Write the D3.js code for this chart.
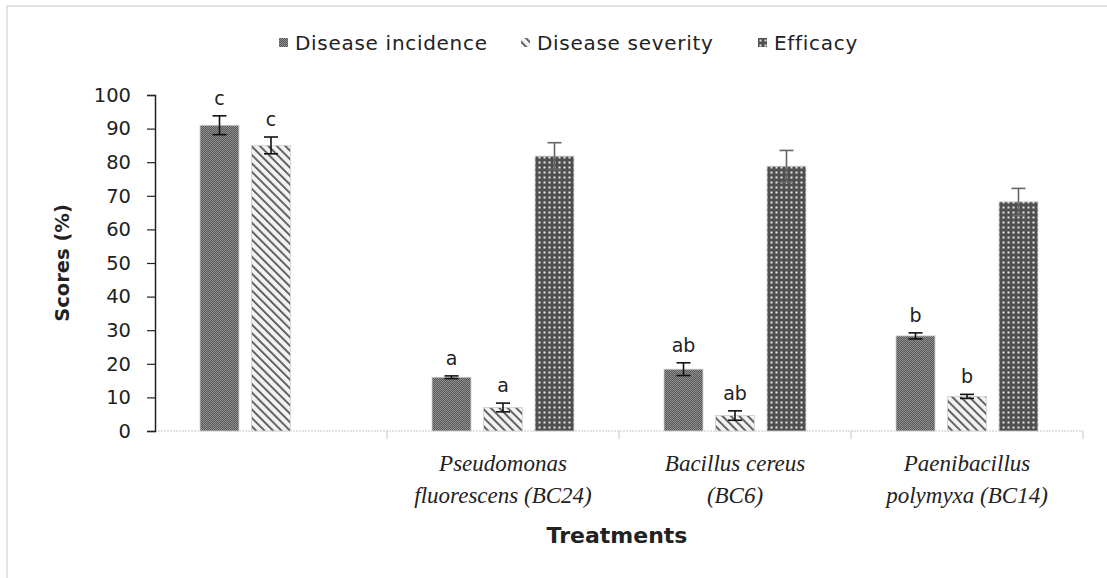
<!DOCTYPE html>
<html>
<head>
<meta charset="utf-8">
<script src="https://cdn.jsdelivr.net/npm/d3@7"></script>
<style>
body { margin: 0; background: #fff; }
text { font-family: "DejaVu Sans", Verdana, sans-serif; fill: #222; }
</style>
</head>
<body>
<script>
var w = 1107, h = 578;

// data
var categories = ["Control", "Pseudomonas fluorescens (BC24)", "Bacillus cereus (BC6)", "Paenibacillus polymyxa (BC14)"];
var catLines = [[], ["Pseudomonas", "fluorescens (BC24)"], ["Bacillus cereus", "(BC6)"], ["Paenibacillus", "polymyxa (BC14)"]];
var series = ["Disease incidence", "Disease severity", "Efficacy"];
var incidence = [91, 16, 18.4, 28.3];
var incidenceErr = [2.8, 0.4, 1.9, 0.9];
var severity = [85, 7, 4.6, 10.3];
var severityErr = [2.5, 1.3, 1.4, 0.6];
var efficacy = [null, 81.8, 78.8, 68.2];
var efficacyErr = [0, 4, 4.7, 4];
var letters = [["c", "c", ""], ["a", "a", ""], ["ab", "ab", ""], ["b", "b", ""]];
var yTicks = [0, 10, 20, 30, 40, 50, 60, 70, 80, 90, 100];

var values = [incidence, severity, efficacy];
var errs = [incidenceErr, severityErr, efficacyErr];

var svg = d3.select("body").append("svg")
    .attr("width", w)
    .attr("height", h);

// patterns
var defs = svg.append("defs");
var p1 = defs.append("pattern").attr("id", "pInc").attr("patternUnits", "userSpaceOnUse")
    .attr("width", 2).attr("height", 2);
p1.append("rect").attr("width", 2).attr("height", 2).attr("fill", "#919191");
p1.append("rect").attr("width", 1).attr("height", 1).attr("fill", "#575757");
p1.append("rect").attr("x", 1).attr("y", 1).attr("width", 1).attr("height", 1).attr("fill", "#575757");

var p2 = defs.append("pattern").attr("id", "pSev").attr("patternUnits", "userSpaceOnUse")
    .attr("width", 6).attr("height", 6).attr("patternTransform", "rotate(-45)");
p2.append("rect").attr("width", 6).attr("height", 6).attr("fill", "#f2f2f2");
p2.append("rect").attr("width", 1.8).attr("height", 6).attr("fill", "#555");

var p3 = defs.append("pattern").attr("id", "pEff").attr("patternUnits", "userSpaceOnUse")
    .attr("width", 5).attr("height", 5);
p3.append("rect").attr("width", 5).attr("height", 5).attr("fill", "#4f4f4f");
p3.append("rect").attr("x", 1.5).attr("y", 1.5).attr("width", 2).attr("height", 2).attr("fill", "#e8e8e8");

var fills = ["url(#pInc)", "url(#pSev)", "url(#pEff)"];

// chart border
svg.append("path")
    .attr("d", "M7," + h + "V6H" + w)
    .attr("fill", "none")
    .attr("stroke", "#e2e2e2")
    .attr("stroke-width", 2);

var x0 = d3.scaleBand().domain(categories).range([155, 1083]);
var x1 = d3.scaleBand().domain(series).range([32.5, 199.5]).padding(0.243);
var y = d3.scaleLinear().domain([0, 100]).range([431, 95]);

// x axis line (dotted grey) and ticks at category edges
svg.append("line")
    .attr("x1", 155).attr("x2", 1083)
    .attr("y1", y(0)).attr("y2", y(0))
    .attr("stroke", "#c8c8c8")
    .attr("stroke-width", 1.2)
    .attr("stroke-dasharray", "2,1");
svg.selectAll(".xtick")
    .data(categories.slice(1).concat(["end"]))
    .enter().append("line")
    .attr("x1", function (d, i) { return i < 3 ? x0(categories[i + 1]) : 1083; })
    .attr("x2", function (d, i) { return i < 3 ? x0(categories[i + 1]) : 1083; })
    .attr("y1", y(0)).attr("y2", y(0) + 8)
    .attr("stroke", "#c8c8c8");

// bars
var groups = svg.selectAll(".grp")
    .data(categories)
    .enter().append("g")
    .attr("transform", function (d) { return "translate(" + x0(d) + ",0)"; });

series.forEach(function (s, si) {
    groups.each(function (c, ci) {
        var v = values[si][ci];
        if (v === null) return;
        var g = d3.select(this);
        var cx = x1(s) + x1.bandwidth() / 2;
        g.append("rect")
            .attr("x", x1(s))
            .attr("y", y(v))
            .attr("width", x1.bandwidth())
            .attr("height", y(0) - y(v))
            .attr("fill", fills[si])
            .attr("stroke", "#cfcfcf")
            .attr("stroke-width", 0.8);
        var e = errs[si][ci];
        var col = si == 2 ? "#666" : "#111";
        g.append("line")
            .attr("x1", cx).attr("x2", cx)
            .attr("y1", y(v + e)).attr("y2", y(v - e))
            .attr("stroke", col).attr("stroke-width", 1.6);
        [v + e, v - e].forEach(function (t) {
            g.append("line")
                .attr("x1", cx - 7).attr("x2", cx + 7)
                .attr("y1", y(t)).attr("y2", y(t))
                .attr("stroke", col).attr("stroke-width", 1.6);
        });
        if (letters[ci][si]) {
            g.append("text")
                .attr("x", cx)
                .attr("y", y(v + e) - 11)
                .attr("text-anchor", "middle")
                .attr("font-size", 19)
                .text(letters[ci][si]);
        }
    });
});

// y axis
var yAxis = d3.axisLeft(y).tickValues(yTicks).tickSize(8).tickPadding(16);
var ya = svg.append("g")
    .attr("transform", "translate(155,0)")
    .call(yAxis);
ya.select(".domain").attr("stroke", "#222").attr("stroke-width", 1.5);
ya.selectAll(".tick line").attr("stroke", "#222").attr("stroke-width", 1.2);
ya.selectAll(".tick text")
    .attr("font-family", "DejaVu Sans, sans-serif")
    .attr("font-size", 19.5)
    .attr("fill", "#2a2a2a");

// category labels
groups.each(function (c, ci) {
    var g = d3.select(this);
    catLines[ci].forEach(function (t, li) {
        g.append("text")
            .attr("x", x0.bandwidth() / 2)
            .attr("y", 471 + li * 32)
            .attr("text-anchor", "middle")
            .style("font-family", "'Liberation Serif', 'Times New Roman', serif")
            .style("font-style", "italic")
            .attr("font-size", 23)
            .text(t);
    });
});

// axis titles
svg.append("text")
    .attr("x", 617).attr("y", 543)
    .attr("text-anchor", "middle")
    .attr("font-size", 22)
    .attr("font-weight", "bold")
    .text("Treatments");

svg.append("text")
    .attr("transform", "translate(69,263) rotate(-90)")
    .attr("text-anchor", "middle")
    .attr("font-size", 19.5)
    .attr("font-weight", "bold")
    .text("Scores (%)");

// legend
var legX = [279, 521, 758];
var leg = svg.selectAll(".leg")
    .data(series)
    .enter().append("g")
    .attr("transform", function (d, i) { return "translate(" + legX[i] + ",43)"; });
leg.append("rect")
    .attr("x", 0).attr("y", -5)
    .attr("width", 9).attr("height", 9)
    .attr("fill", function (d, i) { return fills[i]; });
leg.append("text")
    .attr("x", 16).attr("y", 0)
    .attr("dy", "0.35em")
    .attr("font-size", 20)
    .attr("letter-spacing", 0.7)
    .text(function (d) { return d; });
</script>
</body>
</html>
